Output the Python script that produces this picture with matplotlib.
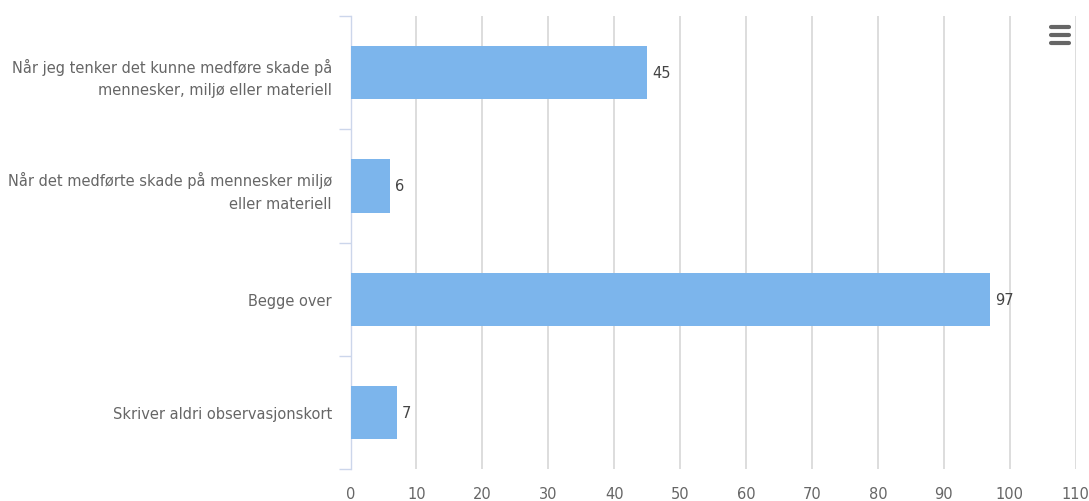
import matplotlib.pyplot as plt
from matplotlib.lines import Line2D

categories = [
    "Når jeg tenker det kunne medføre skade på\nmennesker, miljø eller materiell",
    "Når det medførte skade på mennesker miljø\neller materiell",
    "Begge over",
    "Skriver aldri observasjonskort",
]
values = [45, 6, 97, 7]
x_ticks = list(range(0, 111, 10))

bar_color = "#7cb5ec"
text_color = "#666666"

fig = plt.figure(figsize=(10.89, 5.02), dpi=100)
ax = fig.add_axes([0.3219, 0.0637, 0.6659, 0.9024])

pos = list(range(len(categories)))
ax.barh(pos, values, height=0.47, color=bar_color, zorder=3)
for p, v in zip(pos, values):
    ax.text(v + 0.8, p, str(v), va="center", ha="left", fontsize=10.5,
            color="#444444", zorder=4)

ax.set_xlim(0, 110)
ax.set_ylim(len(categories) - 0.5, -0.5)

ax.set_xticks(x_ticks)
ax.set_xticklabels([str(t) for t in x_ticks])
ax.tick_params(axis="x", length=0, pad=12, labelsize=10.5, labelcolor=text_color)
ax.grid(axis="x", color="#d3d3d3", linewidth=1.1, zorder=0)
ax.set_axisbelow(True)

ax.set_yticks(pos)
ax.set_yticklabels(categories, fontsize=10.5, color=text_color, linespacing=1.6)
ax.tick_params(axis="y", which="major", length=0, pad=13.5)
ax.set_yticks([p - 0.5 for p in pos] + [len(pos) - 0.5], minor=True)
ax.tick_params(axis="y", which="minor", length=8.6, width=1, color="#ccd6eb")

for s in ["top", "right", "bottom"]:
    ax.spines[s].set_visible(False)
ax.spines["left"].set_color("#ccd6eb")
ax.spines["left"].set_linewidth(1)

# menu icon
for yy in [0.9442, 0.9283, 0.9133]:
    fig.add_artist(Line2D([0.9650, 0.9820], [yy, yy], transform=fig.transFigure,
                          color="#666666", linewidth=3.0, solid_capstyle="round"))

fig.savefig("out.png", dpi=100)
